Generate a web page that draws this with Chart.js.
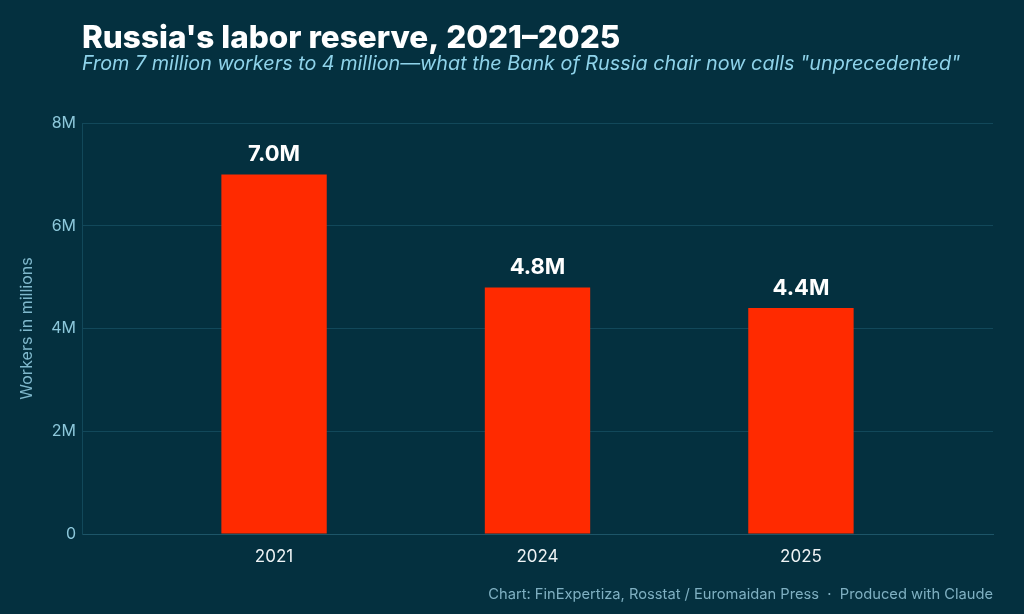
<!DOCTYPE html>
<html>
<head>
<meta charset="utf-8">
<script src="https://cdn.jsdelivr.net/npm/chart.js@4"></script>
<style>
  html, body { margin: 0; padding: 0; background: #04303f; }
  #wrap { width: 1024px; height: 614px; }
</style>
</head>
<body>
<div id="wrap"><canvas id="myChart" width="1024" height="614"></canvas></div>
<script>
const years = ["2021", "2024", "2025"];
const workers = [7.0, 4.8, 4.4];
const valueLabels = ["7.0M", "4.8M", "4.4M"];
const yTicks = [0, 2, 4, 6, 8];

const FONT = "Inter, 'Noto Sans', sans-serif";

const overlay = {
  id: "overlay",
  afterDatasetsDraw(chart) {
    const ctx = chart.ctx;
    const meta = chart.getDatasetMeta(0);
    ctx.save();
    ctx.fillStyle = "#ffffff";
    ctx.font = "bold 22px " + FONT;
    ctx.textAlign = "center";
    ctx.textBaseline = "bottom";
    meta.data.forEach((bar, i) => {
      ctx.fillText(valueLabels[i], bar.x, bar.y - 9);
    });
    ctx.restore();
  },
  afterDraw(chart) {
    const ctx = chart.ctx;
    ctx.save();
    ctx.textAlign = "left";
    ctx.textBaseline = "alphabetic";
    ctx.fillStyle = "#ffffff";
    ctx.font = "800 31.5px " + FONT;
    ctx.fillText("Russia's labor reserve, 2021\u20132025", 82, 48);
    ctx.fillStyle = "#8fd3ea";
    ctx.font = "italic 19.8px " + FONT;
    ctx.fillText("From 7 million workers to 4 million\u2014what the Bank of Russia chair now calls \"unprecedented\"", 82, 70);
    ctx.textAlign = "right";
    ctx.fillStyle = "#7fb0c2";
    ctx.font = "14.7px " + FONT;
    ctx.fillText("Chart: FinExpertiza, Rosstat / Euromaidan Press  \u00b7  Produced with Claude", 993, 599);
    ctx.restore();
  }
};

new Chart(document.getElementById("myChart").getContext("2d"), {
  type: "bar",
  data: {
    datasets: [{
      data: workers.map((v, i) => ({ x: i, y: v })),
      backgroundColor: "#ff2a00",
      borderWidth: 0,
      barPercentage: 0.4,
      categoryPercentage: 1
    }]
  },
  options: {
    responsive: false,
    animation: false,
    layout: { padding: { top: 123, right: 31, bottom: 26, left: 0 } },
    plugins: {
      legend: { display: false },
      tooltip: { enabled: false }
    },
    scales: {
      x: {
        type: "linear",
        offset: false,
        min: -0.729,
        max: 2.729,
        afterBuildTicks: (scale) => { scale.ticks = years.map((y, i) => ({ value: i })); },
        afterFit: (scale) => { scale.height = 54; },
        ticks: {
          color: "#eef3f5",
          font: { family: FONT, size: 17 },
          padding: 5,
          callback: (v) => years[v]
        },
        grid: { display: false },
        border: { color: "#1d5568", width: 1 }
      },
      y: {
        min: 0,
        max: 8,
        afterBuildTicks: (scale) => { scale.ticks = yTicks.map(v => ({ value: v })); },
        afterFit: (scale) => { scale.width = 82; },
        ticks: {
          color: "#8cc7da",
          font: { family: FONT, size: 16 },
          padding: 6,
          callback: (v) => v === 0 ? "0" : v + "M"
        },
        grid: { color: "#12485a", drawTicks: false },
        border: { color: "#12485a" },
        title: {
          display: true,
          text: "Workers in millions",
          color: "#7fb8cc",
          font: { family: FONT, size: 16 },
          padding: { top: 18, bottom: 0 }
        }
      }
    }
  },
  plugins: [overlay]
});
</script>
</body>
</html>
